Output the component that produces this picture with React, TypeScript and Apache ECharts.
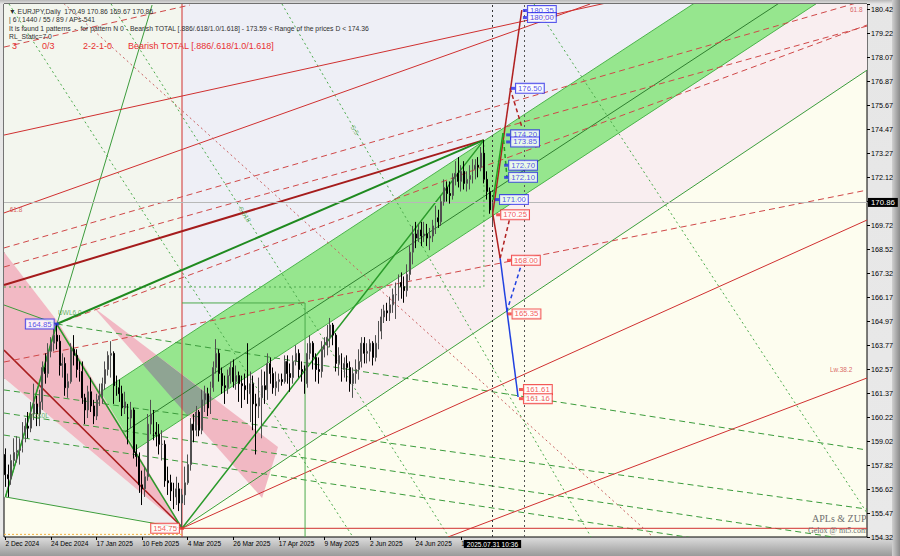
import React, { useEffect, useRef } from "react";
import * as echarts from "echarts";

// ---------- axes / categories ----------
const START_DATE = "2024-12-02";
const MARKET_HOLIDAYS = ["2024-12-25", "2025-01-01"];
const TOTAL_SLOTS = 303; // trading-day slots visible on the chart (incl. empty future)
const LAST_BAR = 171; // 2025-07-31
const Y_MIN = 154.32;
const Y_MAX = 180.67;
const PRICE_TICKS = [
  "154.32", "155.47", "156.62", "157.82", "159.02", "160.22", "161.37", "162.57",
  "163.77", "164.97", "166.17", "167.32", "168.52", "169.72", "", "172.12",
  "173.27", "174.47", "175.67", "176.87", "178.07", "179.22", "180.42",
];
const CURRENT_PRICE = 170.86;

// ---------- candles: [open, close, low, high] ----------
const CANDLES: number[][] = [
  [158.4, 157.4, 156.8, 158.7], [157.4, 157.2, 156.3, 157.9], [157.2, 158.1, 156.9, 158.4], [158.1, 158.5, 157.8, 159.2], [158.5, 158.6, 158.0, 159.3],
  [158.6, 158.7, 157.9, 159.2], [158.7, 159.5, 158.5, 160.0], [159.5, 159.8, 159.0, 160.2], [159.8, 159.7, 159.2, 160.5], [159.7, 160.4, 159.5, 161.0],
  [160.4, 160.9, 160.1, 161.9], [160.9, 160.4, 159.8, 161.3], [160.4, 161.0, 159.8, 161.6], [161.0, 162.7, 160.6, 163.0], [162.7, 162.4, 161.9, 163.4],
  [162.4, 163.5, 162.2, 163.9], [163.5, 163.9, 163.2, 164.2], [163.9, 164.3, 163.5, 164.6], [164.3, 164.0, 163.6, 164.85], [164.0, 162.8, 162.3, 164.3],
  [162.8, 162.9, 162.2, 163.4], [162.9, 161.7, 161.3, 163.2], [161.7, 162.0, 161.2, 162.4], [162.0, 163.6, 161.9, 163.9], [163.6, 163.3, 162.8, 164.3],
  [163.3, 162.6, 162.2, 163.6], [162.6, 162.5, 162.0, 163.0], [162.5, 161.2, 160.9, 163.0], [161.2, 160.6, 159.9, 161.4], [160.6, 161.5, 160.2, 161.8],
  [161.5, 160.8, 160.5, 162.2], [160.8, 160.3, 159.9, 161.1], [160.3, 161.1, 160.1, 161.4], [161.1, 161.3, 160.8, 161.9], [161.3, 161.9, 160.9, 162.2],
  [161.9, 162.6, 161.6, 163.0], [162.6, 163.3, 162.3, 163.5], [163.3, 163.4, 162.2, 164.0], [163.4, 161.8, 160.9, 163.5], [161.8, 161.7, 161.3, 162.3],
  [161.7, 161.4, 161.0, 162.1], [161.4, 160.7, 160.3, 161.8], [160.7, 161.0, 160.4, 161.5], [160.2, 160.2, 158.9, 160.9], [160.2, 160.6, 159.7, 161.0],
  [160.6, 158.5, 158.2, 160.7], [158.5, 158.3, 157.8, 158.9], [158.3, 156.9, 156.5, 158.5], [156.9, 156.7, 155.9, 157.6], [156.7, 157.3, 156.3, 157.8],
  [157.3, 159.9, 157.1, 160.4], [159.9, 160.4, 159.4, 161.1], [160.4, 159.5, 159.1, 160.6], [159.5, 159.4, 158.8, 160.0], [159.4, 158.9, 158.4, 159.9],
  [158.9, 158.9, 158.1, 159.6], [158.9, 157.1, 156.8, 159.1], [157.1, 157.0, 156.4, 157.8], [157.0, 156.6, 156.1, 157.4], [156.6, 156.3, 155.7, 157.0],
  [156.3, 156.7, 155.9, 157.3], [156.7, 156.0, 155.6, 157.0], [156.0, 156.4, 154.75, 156.7], [156.4, 157.0, 155.9, 157.8], [157.0, 157.9, 156.9, 158.4],
  [157.9, 159.9, 157.6, 160.2], [159.9, 159.6, 159.0, 160.4], [159.6, 160.5, 159.3, 160.8], [160.5, 159.6, 159.3, 160.6], [159.6, 161.1, 159.4, 161.6],
  [161.1, 161.4, 160.5, 161.8], [161.4, 160.7, 160.3, 161.7], [160.7, 161.7, 160.4, 162.0], [161.7, 162.7, 161.5, 163.0], [162.7, 163.4, 162.4, 164.1],
  [163.4, 162.4, 162.0, 163.6], [162.4, 161.8, 161.4, 162.7], [161.8, 161.7, 160.9, 162.3], [161.7, 162.3, 161.4, 162.6], [162.3, 162.7, 161.9, 163.0],
  [162.7, 162.0, 161.7, 163.1], [162.0, 162.3, 161.6, 162.8], [162.3, 161.9, 161.0, 162.5], [161.9, 161.8, 160.7, 162.3], [161.8, 161.6, 161.1, 162.4],
  [161.6, 161.4, 160.9, 163.9], [161.4, 161.9, 160.0, 162.5], [161.9, 160.9, 159.6, 162.3], [160.9, 160.8, 158.4, 161.4], [160.8, 161.2, 160.2, 162.2],
  [161.2, 161.8, 159.2, 162.6], [161.8, 161.6, 160.9, 162.5], [161.6, 162.9, 161.1, 163.4], [162.9, 162.4, 161.9, 163.2], [162.4, 161.7, 161.4, 162.7],
  [161.7, 162.0, 161.3, 162.5], [162.0, 162.1, 161.5, 162.4], [162.1, 162.0, 161.8, 162.4], [162.0, 163.0, 161.9, 163.3], [163.0, 162.4, 161.9, 163.3],
  [162.4, 162.2, 161.5, 162.9], [162.2, 163.0, 161.9, 163.3], [163.0, 163.4, 162.8, 163.8], [163.4, 162.6, 162.2, 163.6], [162.6, 162.5, 162.0, 163.0],
  [162.5, 161.9, 161.4, 162.8], [161.9, 163.4, 161.7, 163.9], [163.4, 163.9, 163.1, 164.3], [163.9, 163.2, 162.6, 164.0], [163.2, 162.6, 162.0, 163.4],
  [162.6, 162.5, 161.9, 163.2], [162.5, 163.6, 162.2, 164.0], [163.6, 163.8, 163.2, 164.2], [163.8, 164.2, 163.3, 164.8], [164.2, 164.8, 163.7, 165.15],
  [164.8, 164.3, 163.8, 164.9], [164.3, 162.9, 162.5, 164.4], [162.9, 163.3, 162.3, 163.7], [163.3, 162.6, 162.0, 163.4], [162.6, 162.9, 162.2, 163.2],
  [162.9, 162.7, 162.0, 163.3], [162.7, 161.9, 161.5, 163.0], [161.9, 162.4, 161.2, 162.7], [162.4, 162.6, 161.9, 163.1], [162.6, 163.0, 162.1, 163.6],
  [163.0, 163.9, 162.7, 164.2], [163.9, 163.4, 162.9, 164.2], [163.4, 163.5, 162.9, 163.9], [163.5, 163.9, 163.0, 164.1], [163.9, 163.2, 162.8, 164.0],
  [163.2, 163.9, 163.0, 164.3], [163.9, 164.5, 163.6, 165.0], [164.5, 165.2, 164.1, 165.6], [165.2, 165.5, 164.9, 165.8], [165.5, 165.4, 165.0, 165.9],
  [165.4, 165.8, 165.0, 166.2], [165.8, 166.3, 165.4, 166.6], [166.3, 166.3, 165.1, 166.9], [166.3, 166.9, 166.0, 167.3], [166.9, 166.7, 166.1, 167.4],
  [166.7, 166.5, 165.9, 167.2], [166.5, 167.3, 166.2, 167.8], [167.3, 168.4, 167.0, 168.7], [168.4, 169.3, 167.8, 169.7], [169.3, 169.1, 168.6, 169.9],
  [169.1, 169.5, 168.9, 169.8], [169.5, 169.2, 168.7, 169.9], [169.2, 169.3, 168.9, 169.9], [169.3, 169.1, 168.7, 169.8], [169.1, 169.2, 168.5, 169.6],
  [169.2, 169.7, 168.9, 170.0], [169.7, 170.1, 169.3, 170.7], [170.1, 169.9, 169.6, 170.5], [169.9, 170.9, 169.7, 171.2], [170.9, 171.6, 170.7, 172.0],
  [171.6, 171.3, 170.9, 171.9], [171.3, 171.2, 170.8, 171.9], [171.2, 172.1, 171.0, 172.3], [172.1, 172.3, 171.7, 172.9], [172.3, 171.9, 171.6, 173.1],
  [171.9, 172.4, 171.4, 172.7], [172.4, 171.8, 171.5, 172.9], [171.8, 172.0, 171.4, 172.4], [172.0, 172.2, 171.5, 172.7], [172.2, 172.5, 171.8, 173.0],
  [172.5, 172.7, 172.0, 173.0], [172.7, 172.6, 172.1, 173.1], [172.6, 173.3, 172.4, 173.6], [173.3, 172.0, 171.8, 173.94], [172.0, 171.4, 171.0, 172.4],
  [171.4, 170.49, 170.3, 171.6], [170.49, 170.86, 169.67, 170.86],
];

// ---------- drawing objects, in [bar index, price] ----------
const ZUP_ZIGZAG = [[0, 156.3], [18, 164.85], [62, 154.75], [168, 173.94]];
const GREEN_TREND_THICK = [[18, 164.85], [168, 173.94]];
const RED_TREND_THICK = [[-0.5, 166.78], [168, 173.94]];
const GREEN_BOX = [[62, 165.89], [105.2, 165.89], [105.2, 154.32]];
const GREEN_DOTTED_BOX = [[-0.5, 166.68], [168, 166.68], [168, 173.94]];

// filled zones
const TOP_LEFT_ZONE = [[-0.5, 186], [62, 186], [62, 164.11], [33.42, 161.49], [18.46, 164.95], [-0.5, 168.41]];
const LAVENDER_ZONE = [[62, 164.11], [62, 186.3], [302.5, 186.3]];
const PINK_ZONE = [[45.6, 158.63], [302.5, 182.33], [302.5, 177.4], [62, 154.81]];
const GRAY_TRIANGLE = [[-0.5, 162.18], [62, 154.81], [-0.5, 156.3]];
const PINK_WEDGE = [[-0.5, 168.41], [18.46, 164.95], [62, 154.81], [-0.5, 162.18]];
const BAND_GREEN = [[33.42, 161.49], [302.5, 186.3], [302.5, 182.33], [45.6, 158.63]];
const PINK_FAN = [[30.8, 165.69], [95.7, 158.77], [90.1, 156.25]];
const FAN_OVERLAP = [[48.3, 162.84], [53.2, 163.29], [73.0, 161.17], [63.9, 160.33]];

// straight segments [x1, p1, x2, p2]
const BAND_LINES = [
  [33.42, 161.49, 302.5, 186.3],
  [45.6, 158.63, 302.5, 182.33],
];
const BAND_INNER = [[41.8, 159.51, 302.5, 183.56]];
const GREEN_SOLID = [
  [0, 156.3, 51.5, 180.62],
  [-0.5, 165.79, 18, 164.85],
  [0, 156.3, 62, 154.75],
  [62, 154.75, 302.5, 177.4],
];
const GREEN_DASHED = [
  [18, 164.85, 302.5, 158.62],
  [-0.5, 161.59, 302.5, 155.7],
  [-0.5, 160.45, 302.5, 154.07],
  [-0.5, 159.36, 302.5, 152.99],
];
const GREEN_DOTTED = [
  [97.1, 180.67, 205.6, 154.32],
  [1.26, 180.67, 122.0, 154.32],
  [37.1, 180.67, 155.7, 154.32],
  [185.6, 180.67, 302.5, 155.51],
];
const RED_SOLID = [
  [62, 154.32, 62, 180.67],
  [62, 154.75, 302.5, 154.75],
  [62, 154.75, 302.5, 169.99],
  [-0.5, 174.19, 215.8, 180.87],
  [-0.5, 170.34, 205.3, 180.67],
  [155.4, 154.32, 302.5, 162.18],
];
const RED_WEDGE_LINE = [[-0.5, 163.56, 62, 154.81]];
const RED_DASHED = [
  [-0.5, 178.54, 64.8, 180.62],
  [-0.5, 162.97, 302.5, 171.47],
  [18, 164.85, 302.5, 179.63],
  [-0.5, 168.61, 302.5, 180.87],
  [-0.5, 167.67, 302.5, 179.58],
];
const RED_DOTTED = [[19.2, 180.86, 227.4, 154.32]];
const ORANGE_DOTTED = [[-0.5, 154.45, 62, 154.45]];

// projected pattern legs
const PROJ_RED_SOLID = [[171.1, 170.32, 181.3, 180.37], [171.1, 170.32, 173.7, 168.1]];
const PROJ_RED_DASHED = [[177.2, 176.5, 181.3, 174.6], [173.7, 168.1, 177.2, 170.15]];
const PROJ_BLUE_SOLID = [[173.7, 168.1, 180.0, 161.24]];
const PROJ_BLUE_DASHED = [[176.0, 165.46, 181.3, 167.85]];
const PROJ_GREEN_SOLID = [[171.2, 170.98, 174.7, 174.29]];
const PROJ_GREEN_DASHED = [[174.7, 174.29, 176.1, 172.1]];

// price tags
const BLUE_TAGS = [[182.4, 180.35], [182.4, 180.0], [178.2, 176.5], [176.5, 174.2], [176.5, 173.85], [175.8, 172.7], [175.8, 172.1], [172.6, 171.0]];
const RED_TAGS = [[173, 170.25], [176.8, 168.0], [177, 165.35], [181, 161.61], [181, 161.16]];
const SWING_HIGH_TAG = [[18, 164.85]];
const SWING_LOW_TAG = [[62, 154.75]];

// small level captions on the fan lines
const RED_CAPTIONS = [
  { at: [1.5, 170.5], text: "61.8" },
  { at: [296.5, 180.4], text: "61.8" },
  { at: [289.5, 162.6], text: "Lw.38.2" },
];
const GREEN_CAPTIONS = [
  { at: [8, 160.35], text: "M2&0L" },
  { at: [18.5, 165.4], text: "UWL6.0" },
];
const GREEN_SLANTED_CAPTIONS = [
  { at: [84.1, 170.27], text: "S.618" },
  { at: [122.7, 174.45], text: "S.5" },
];

const HEADER_LINES = [
  "▼ EURJPY,Daily  170.49 170.86 169.67 170.86",
  "| 6 / 1440 / 55 / 89 / APs-541",
  "It is found 1 patterns  -  for pattern N 0 - Bearish TOTAL [.886/.618/1.0/1.618] - 173.59 < Range of the prices D < 174.36",
  "RL_Static=7.0",
];
const PATTERN_ROW = ["3", "0/3", "2-2-1-0", "Bearish TOTAL [.886/.618/1.0/1.618]"];

const MONTHS = ["Jan", "Feb", "Mar", "Apr", "May", "Jun", "Jul", "Aug", "Sep", "Oct", "Nov", "Dec"];

function buildTradingDays(start: string, count: number): string[] {
  const out: string[] = [];
  const d = new Date(start + "T00:00:00Z");
  while (out.length < count) {
    const wd = d.getUTCDay();
    const iso = d.toISOString().slice(0, 10);
    if (wd !== 0 && wd !== 6 && !MARKET_HOLIDAYS.includes(iso)) out.push(iso);
    d.setUTCDate(d.getUTCDate() + 1);
  }
  return out;
}

function fmtDate(iso: string) {
  const [y, m, d] = iso.split("-");
  return `${parseInt(d, 10)} ${MONTHS[parseInt(m, 10) - 1]} ${y}`;
}

const FONT = "Liberation Sans, DejaVu Sans";

export default function App() {
  const ref = useRef<HTMLDivElement>(null);

  useEffect(() => {
    if (!ref.current) return;
    const chart = echarts.init(ref.current, undefined, { renderer: "svg" });
    const dates = buildTradingDays(START_DATE, TOTAL_SLOTS);
    const tickStep = (Number(PRICE_TICKS[22]) - Y_MIN) / 22;
    const labelAxisMax = (Y_MAX - Y_MIN) / tickStep;

    const segSeries = (name: string, data: number[][], color: string, width: number, type: any, z = 3) => ({
      name,
      type: "custom",
      xAxisIndex: 1,
      yAxisIndex: 0,
      clip: true,
      silent: true,
      z,
      data,
      encode: { x: [0, 2], y: [1, 3] },
      renderItem: (_p: any, api: any) => {
        const a = api.coord([api.value(0), api.value(1)]);
        const b = api.coord([api.value(2), api.value(3)]);
        return {
          type: "line",
          shape: { x1: a[0], y1: a[1], x2: b[0], y2: b[1] },
          style: { stroke: color, lineWidth: width, lineDash: type, fill: null },
        };
      },
    });

    const zoneSeries = (name: string, pts: number[][], color: string, z = 1) => ({
      name,
      type: "custom",
      xAxisIndex: 1,
      yAxisIndex: 0,
      clip: true,
      silent: true,
      z,
      data: [0],
      renderItem: (_p: any, api: any) => ({
        type: "polygon",
        shape: { points: pts.map((q) => api.coord(q)) },
        style: { fill: color, stroke: null },
      }),
    });

    const pathSeries = (name: string, pts: number[][], color: string, width: number, type: any = "solid", z = 4) => ({
      name,
      type: "line",
      xAxisIndex: 1,
      yAxisIndex: 0,
      data: pts,
      symbol: "none",
      silent: true,
      z,
      lineStyle: { color, width, type },
    });

    const tagSeries = (name: string, pts: number[][], color: string, pos: string) => ({
      name,
      type: "scatter",
      xAxisIndex: 1,
      yAxisIndex: 0,
      data: pts,
      symbol: "rect",
      symbolSize: [4, 3],
      itemStyle: { color },
      z: 10,
      label: {
        show: true,
        position: pos,
        distance: 1,
        formatter: (p: any) => p.value[1].toFixed(2),
        color,
        fontFamily: FONT,
        fontSize: 7.8,
        lineHeight: 9,
        backgroundColor: "#ffffff",
        borderColor: color,
        borderWidth: 1,
        padding: [0, 2, 0, 2],
      },
    });

    const captionSeries = (name: string, items: any[], color: string, rotate = 0) => ({
      name,
      type: "scatter",
      xAxisIndex: 1,
      yAxisIndex: 0,
      symbolSize: 0,
      silent: true,
      z: 9,
      data: items.map((c) => ({ value: c.at, name: c.text })),
      label: {
        show: true,
        position: rotate ? "inside" : "right",
        distance: 0,
        rotate,
        formatter: (p: any) => p.name,
        color,
        fontFamily: FONT,
        fontSize: 6.5,
      },
    });

    const option: any = {
      animation: false,
      backgroundColor: "transparent",
      grid: {
        left: 4,
        right: 33,
        top: 4,
        bottom: 19,
        show: true,
        backgroundColor: "#fdfdef",
        borderColor: "#000000",
        borderWidth: 1,
      },
      xAxis: [
        {
          type: "category",
          data: dates,
          boundaryGap: true,
          axisLine: { show: false },
          axisTick: {
            show: true,
            alignWithLabel: true,
            interval: (i: number) => i % 16 === 0 && i <= LAST_BAR,
            length: 3,
            lineStyle: { color: "#000" },
          },
          axisLabel: {
            interval: (i: number) => i % 16 === 0 && i <= LAST_BAR,
            showMinLabel: true,
            formatter: (v: string) => fmtDate(v),
            align: "left",
            margin: 3,
            fontFamily: FONT,
            fontSize: 6.6,
            color: "#000",
          },
          splitLine: { show: false },
        },
        { type: "value", min: -0.5, max: TOTAL_SLOTS - 0.5, show: false },
      ],
      yAxis: [
        { type: "value", min: Y_MIN, max: Y_MAX, position: "right", show: false, scale: true },
        {
          type: "value",
          min: 0,
          max: labelAxisMax,
          interval: 1,
          position: "right",
          axisLine: { show: false },
          splitLine: { show: false },
          axisTick: { show: true, length: 3, lineStyle: { color: "#000" } },
          axisLabel: {
            margin: 4,
            fontFamily: FONT,
            fontSize: 7.2,
            color: "#000",
            formatter: (v: number) => (Math.abs(v - Math.round(v)) < 1e-6 ? PRICE_TICKS[Math.round(v)] || "" : ""),
          },
        },
      ],
      series: [
        zoneSeries("topLeft", TOP_LEFT_ZONE, "#f3f6ee", 1),
        zoneSeries("lavender", LAVENDER_ZONE, "#eeeff6", 1),
        zoneSeries("pinkZone", PINK_ZONE, "#f9eef0", 1),
        zoneSeries("grayTri", GRAY_TRIANGLE, "#eeeeee", 1),
        zoneSeries("pinkWedge", PINK_WEDGE, "#f2b9c4", 2),
        zoneSeries("band", BAND_GREEN, "#96e68e", 2),
        zoneSeries("pinkFan", PINK_FAN, "#f1b8c3", 2),
        zoneSeries("fanOverlap", FAN_OVERLAP, "#8fa493", 2),
        segSeries("bandEdges", BAND_LINES, "#4cb34c", 1, "solid"),
        segSeries("bandInner", BAND_INNER, "#2f7f2f", 1, "solid"),
        segSeries("greenSolid", GREEN_SOLID, "#3c9c3c", 1, "solid"),
        segSeries("greenDashed", GREEN_DASHED, "#3c9c3c", 1, [6, 4]),
        segSeries("greenDotted", GREEN_DOTTED, "#4caa4c", 1, [2, 3]),
        segSeries("redSolid", RED_SOLID, "#d03030", 1, "solid"),
        segSeries("redWedge", RED_WEDGE_LINE, "#a81e1e", 1.5, "solid"),
        segSeries("redDotted", RED_DOTTED, "#c86060", 1, [2, 3]),
        segSeries("redDashed", RED_DASHED, "#d04848", 1, [6, 4]),
        segSeries("orangeDotted", ORANGE_DOTTED, "#f0b040", 1, [2, 2]),
        pathSeries("greenBox", GREEN_BOX, "#4caa4c", 1),
        pathSeries("greenDottedBox", GREEN_DOTTED_BOX, "#4caa4c", 1, [2, 3]),
        pathSeries("redTrend", RED_TREND_THICK, "#a51c1c", 2),
        pathSeries("greenTrend", GREEN_TREND_THICK, "#1f8a1f", 2),
        pathSeries("zup", ZUP_ZIGZAG, "#2a9a2a", 1.5),
        {
          name: "EURJPY",
          type: "candlestick",
          xAxisIndex: 0,
          yAxisIndex: 0,
          data: CANDLES,
          barMaxWidth: 2,
          z: 6,
          itemStyle: {
            color: "#b0b0b0",
            color0: "#000000",
            borderColor: "#505050",
            borderColor0: "#000000",
            borderWidth: 1,
          },
          markLine: {
            silent: true,
            symbol: "none",
            animation: false,
            data: [
              {
                yAxis: CURRENT_PRICE,
                lineStyle: { color: "#b8b8b8", width: 1, type: "solid" },
                label: {
                  show: true,
                  position: "end",
                  distance: 1,
                  formatter: CURRENT_PRICE.toFixed(2),
                  backgroundColor: "#000",
                  color: "#fff",
                  fontFamily: FONT,
                  fontSize: 7.8,
                  padding: [1, 3, 0, 3],
                },
              },
              {
                xAxis: LAST_BAR,
                lineStyle: { color: "#333", width: 1, type: [2, 3] },
                label: {
                  show: true,
                  position: "start",
                  distance: 3,
                  formatter: "2025.07.31 10:36",
                  backgroundColor: "#000",
                  color: "#fff",
                  fontFamily: FONT,
                  fontSize: 6.6,
                  padding: [1, 3, 0, 3],
                },
              },
              {
                xAxis: 182,
                lineStyle: { color: "#555", width: 1, type: [2, 3] },
                label: { show: false },
              },
            ],
          },
        },
        segSeries("projRed", PROJ_RED_SOLID, "#b02020", 1.5, "solid", 7),
        segSeries("projRedD", PROJ_RED_DASHED, "#b02020", 1.5, [4, 3], 7),
        segSeries("projBlue", PROJ_BLUE_SOLID, "#2040e0", 1.5, "solid", 7),
        segSeries("projBlueD", PROJ_BLUE_DASHED, "#2040e0", 1.5, [4, 3], 7),
        segSeries("projGreen", PROJ_GREEN_SOLID, "#20a020", 1.5, "solid", 7),
        segSeries("projGreenD", PROJ_GREEN_DASHED, "#20a020", 1.5, [4, 3], 7),
        tagSeries("blueTags", BLUE_TAGS, "#2a2ae8", "right"),
        tagSeries("redTags", RED_TAGS, "#f03030", "right"),
        tagSeries("highTag", SWING_HIGH_TAG, "#2a2ae8", "left"),
        tagSeries("lowTag", SWING_LOW_TAG, "#f03030", "left"),
        captionSeries("redCaptions", RED_CAPTIONS, "#d04040"),
        captionSeries("greenCaptions", GREEN_CAPTIONS, "#3c9c3c"),
        captionSeries("greenSlanted", GREEN_SLANTED_CAPTIONS, "#3c9c3c", -58),
      ],
      graphic: [
        ...HEADER_LINES.map((t, k) => ({
          type: "text",
          left: 9,
          top: [7.5, 16, 24.5, 32.5][k],
          z: 20,
          style: { text: t, fontFamily: FONT, fontSize: 6.8, fill: "#303030" },
        })),
        ...PATTERN_ROW.map((t, k) => ({
          type: "text",
          left: [12, 42, 83, 128][k],
          top: 41.5,
          z: 20,
          style: { text: t, fontFamily: FONT, fontSize: 9, fill: "#e83030" },
        })),
        {
          type: "text",
          left: 812,
          top: 513,
          z: 20,
          style: { text: "APLs & ZUP", fontFamily: "Liberation Serif", fontSize: 10, fill: "#707070" },
        },
        {
          type: "text",
          left: 808,
          top: 526,
          z: 20,
          style: { text: "Gelox @ mt5.com", fontFamily: "Liberation Serif", fontSize: 8, fill: "#707070" },
        },
      ],
    };

    chart.setOption(option);
    return () => chart.dispose();
  }, []);

  return (
    <div
      style={{
        position: "fixed",
        left: 0,
        top: 0,
        width: 900,
        height: 556,
        background: "linear-gradient(to bottom, #b8b8b8 0px, #e6e6e6 4px, #e9e9e9 96%, #9a9a9a 100%)",
      }}
    >
      <div
        style={{
          position: "absolute",
          right: 0,
          top: 0,
          width: 8,
          height: 556,
          background: "linear-gradient(to right, #d0d0d0, #8a8a8a)",
        }}
      />
      <div ref={ref} style={{ position: "absolute", left: 0, top: 0, width: 900, height: 556 }} />
    </div>
  );
}
